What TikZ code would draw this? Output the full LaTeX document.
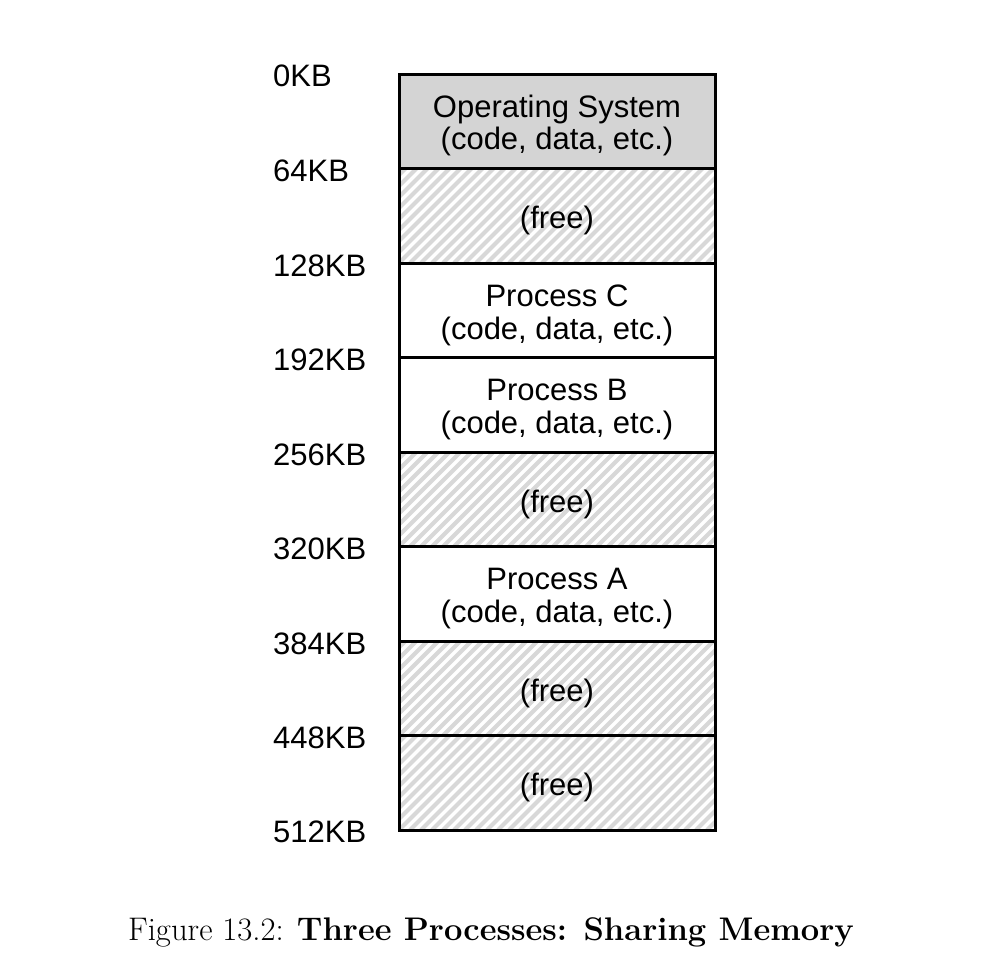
\documentclass[tikz,border=0pt]{standalone}
\usepackage{fontspec}
\newfontfamily\helv{Liberation Sans}
\definecolor{osgray}{HTML}{D4D4D4}
\definecolor{hatchc}{HTML}{D8D8D8}
\begin{document}
\begin{tikzpicture}[x=1pt,y=-1pt,
  seg/.style={draw=black, line width=3pt, minimum width=316pt, minimum height=94.5pt,
    inner sep=0pt},
  segtext/.style={inner sep=0pt, align=center, font=\helv\fontsize{31}{32.5}\selectfont},
  hatched/.style={path picture={
    \foreach \i in {-12,...,30}
      \draw[hatchc, line width=4.2pt]
        ([xshift=\i*11pt]path picture bounding box.south west) -- ++(130pt,130pt);}},
  addr/.style={anchor=west, inner sep=0pt, font=\helv\fontsize{31}{32}\selectfont}]
\useasboundingbox (0,0) rectangle (1004,972);
\fill[white] (0,0) rectangle (1004,972);
% segments
\node[seg, fill=osgray] (os) at (557,121.25) {};
\node[seg, hatched] (f1) at (557,215.75) {};
\node[seg] (pc) at (557,310.25) {};
\node[seg] (pb) at (557,404.75) {};
\node[seg, hatched] (f2) at (557,499.25) {};
\node[seg] (pa) at (557,593.75) {};
\node[seg, hatched] (f3) at (557,688.25) {};
\node[seg, hatched] (f4) at (557,782.75) {};
% segment texts
\node[segtext] (tos) at ([yshift=-4pt]os.center) {Operating System\\(code, data, etc.)};
\node[segtext] (tf1) at ([yshift=-5pt]f1.center) {(free)};
\node[segtext] (tpc) at ([yshift=-5pt]pc.center) {Process C\\(code, data, etc.)};
\node[segtext] (tpb) at ([yshift=-5pt]pb.center) {Process B\\(code, data, etc.)};
\node[segtext] (tf2) at ([yshift=-5pt]f2.center) {(free)};
\node[segtext] (tpa) at ([yshift=-5pt]pa.center) {Process A\\(code, data, etc.)};
\node[segtext] (tf3) at ([yshift=-5pt]f3.center) {(free)};
\node[segtext] (tf4) at ([yshift=-5pt]f4.center) {(free)};
% address labels
\node[addr] (a0) at (273,76) {0KB};
\node[addr] (a1) at (273,171) {64KB};
\node[addr] (a2) at (273,266) {128KB};
\node[addr] (a3) at (273,360) {192KB};
\node[addr] (a4) at (273,455) {256KB};
\node[addr] (a5) at (273,549) {320KB};
\node[addr] (a6) at (273,644) {384KB};
\node[addr] (a7) at (273,738) {448KB};
\node[addr] (a8) at (273,832) {512KB};
% caption
\node[anchor=base, inner sep=0pt, font=\fontsize{32.7}{35}\selectfont] (cap) at (491,940)
  {Figure 13.2: \textbf{Three Processes: Sharing Memory}};
\end{tikzpicture}
\end{document}
